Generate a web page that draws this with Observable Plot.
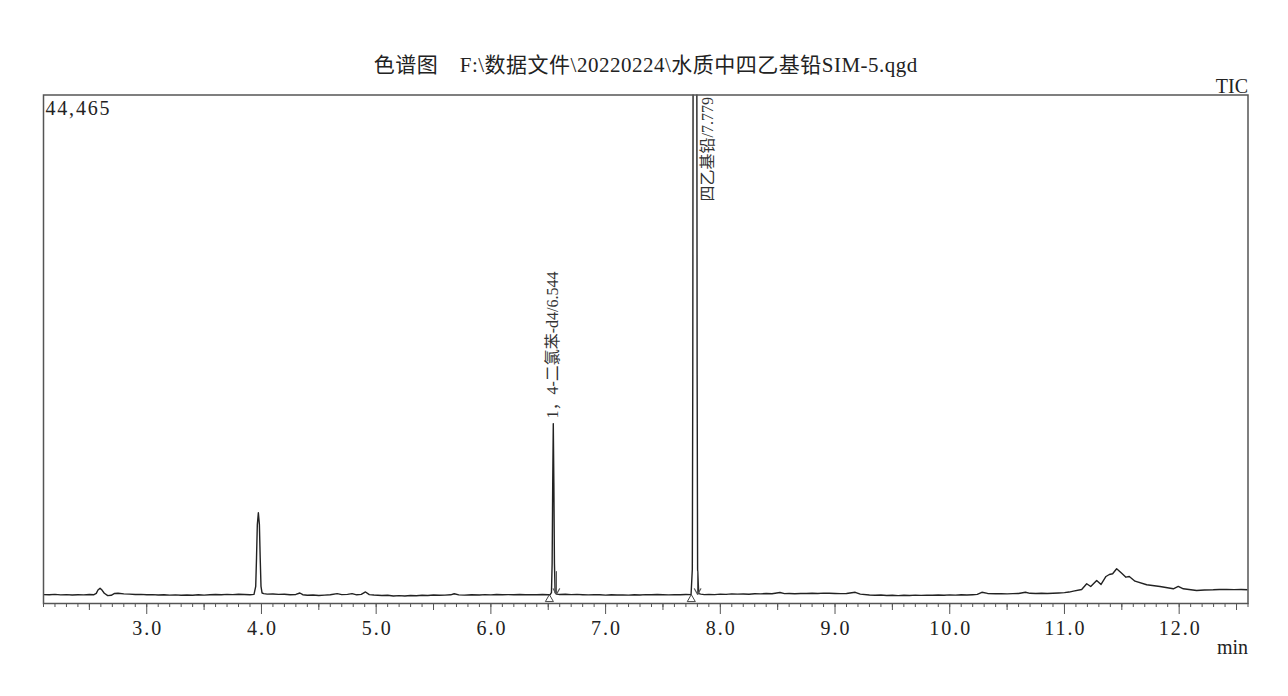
<!DOCTYPE html>
<html><head><meta charset="utf-8">
<script src="https://cdn.jsdelivr.net/npm/d3@7"></script>
<script src="https://cdn.jsdelivr.net/npm/@observablehq/plot@0.6"></script>
<style>body{margin:0;background:#fff}</style>
</head><body><div id="chart"></div>
<script>
// Retention time (min) and TIC intensity
const times = [
2.10,2.15,2.20,2.25,2.30,2.35,2.40,2.45,2.50,2.54,2.56,2.575,2.593,2.61,2.63,2.66,2.69,2.72,2.75,2.80,
2.85,2.90,2.95,3.00,3.05,3.10,3.15,3.20,3.25,3.30,3.35,3.40,3.45,3.50,3.55,3.60,3.65,3.70,3.75,3.80,
3.85,3.90,3.935,3.950,3.957,3.964,3.973,3.982,3.989,3.996,4.005,4.02,4.05,4.10,4.15,4.20,4.25,4.30,4.335,4.36,
4.40,4.45,4.50,4.55,4.60,4.66,4.70,4.75,4.79,4.83,4.87,4.907,4.94,4.98,5.05,5.10,5.15,5.20,5.25,5.30,
5.35,5.40,5.45,5.50,5.55,5.60,5.65,5.68,5.72,5.77,5.83,5.90,5.95,6.00,6.05,6.10,6.15,6.20,6.25,6.30,
6.35,6.40,6.45,6.50,6.518,6.528,6.534,6.539,6.544,6.549,6.554,6.560,6.575,6.60,6.65,6.70,6.75,6.80,6.85,6.90,
6.95,7.00,7.05,7.10,7.15,7.20,7.25,7.30,7.35,7.40,7.45,7.50,7.55,7.60,7.65,7.70,7.745,7.756,7.760,7.764,
7.772,7.779,7.786,7.794,7.798,7.802,7.812,7.83,7.86,7.90,7.95,8.00,8.05,8.10,8.15,8.20,8.25,8.30,8.35,8.40,
8.45,8.52,8.56,8.60,8.65,8.70,8.75,8.80,8.85,8.90,8.95,9.00,9.05,9.10,9.176,9.22,9.30,9.35,9.40,9.45,
9.50,9.55,9.60,9.65,9.70,9.75,9.80,9.85,9.90,9.95,10.00,10.05,10.10,10.15,10.20,10.24,10.28,10.33,10.40,10.45,
10.50,10.55,10.60,10.66,10.70,10.75,10.80,10.85,10.90,10.95,11.00,11.04,11.078,11.15,11.194,11.229,11.281,11.319,11.362,11.391,
11.42,11.455,11.499,11.536,11.565,11.615,11.717,11.833,11.949,11.992,12.036,12.152,12.22,12.297,12.35,12.414,12.48,12.54,12.60
];
const intensities = [
780,760,800,750,780,740,770,750,790,770,880,1180,1340,1170,900,690,720,880,900,840,
820,790,800,760,780,740,760,730,750,720,740,720,760,730,770,790,760,800,780,810,
790,770,800,1500,4000,6900,7939,6900,4000,1500,920,860,820,830,800,810,760,790,920,770,
720,740,700,730,760,860,780,800,860,760,800,1010,780,740,700,720,650,690,660,700,
680,720,700,740,720,730,760,850,750,730,760,740,780,750,790,760,780,770,790,760,
780,770,790,760,790,950,3500,10500,15729,10500,3500,950,820,790,810,780,800,770,750,780,
760,730,760,740,750,730,760,740,780,760,790,770,750,780,760,790,780,3000,20000,60000,
140000,160000,140000,60000,20000,3000,860,820,780,800,780,820,800,840,820,830,810,850,840,870,
850,960,860,880,850,880,870,900,880,910,890,880,860,870,980,820,740,720,740,700,
720,690,720,700,730,710,730,720,740,720,750,730,760,740,770,800,980,880,850,860,
840,860,880,980,890,870,890,880,900,920,950,1000,1077,1225,1724,1488,2013,1663,2363,2538,
2600,3037,2652,2302,2363,1952,1637,1488,1287,1488,1287,1138,1180,1199,1230,1225,1210,1220,1199
];
const yMax = 44465;
const majorTicks = [3,4,5,6,7,8,9,10,11,12];
const halfTicks = [2.5,3.5,4.5,5.5,6.5,7.5,8.5,9.5,10.5,11.5,12.5];
const minorTicks = d3.range(21, 127).map(d => d / 10);
const peakNames = ["1，4-二氯苯-d4", "四乙基铅"];
const peakTimes = [6.544, 7.779];
const peakTops = [15729, 44465];
const peakStarts = [6.510, 7.747];
const peakEnds = [6.571, 7.802];
const arrowFrom = 2800, arrowTo = 800, startMark = 370;
const titleText = "色谱图\u3000F:\\数据文件\\20220224\\水质中四乙基铅SIM-5.qgd";
const traceName = "TIC", unitName = "min";

const idx = d3.range(times.length);
const font = "'Liberation Serif','Noto Sans CJK SC',serif";
const ink = "#222", frameInk = "#555";

const chart = Plot.plot({
  width: 1288, height: 696,
  marginLeft: 43, marginRight: 40.5, marginTop: 94.5, marginBottom: 93,
  style: {fontFamily: font, fontSize: "20px", color: ink, background: "#fff"},
  x: {domain: [2.1, 12.6], label: null},
  y: {domain: [0, yMax], axis: null, label: null},
  marks: [
    Plot.axisX(minorTicks, {tickSize: 4, tickFormat: () => "", stroke: frameInk}),
    Plot.axisX(halfTicks, {tickSize: 7, tickFormat: () => "", stroke: frameInk}),
    Plot.axisX(majorTicks, {tickSize: 11, tickPadding: 6, tickFormat: d => d.toFixed(1), stroke: frameInk, fontSize: 20, fill: ink}),
    Plot.line(idx, {x: i => times[i], y: i => intensities[i], stroke: ink, strokeWidth: 1.4, clip: true}),
    Plot.frame({stroke: frameInk, strokeWidth: 1.5}),
    Plot.dot([0, 1], {x: i => peakStarts[i], y: () => startMark, symbol: "triangle", r: 3, stroke: "#444", strokeWidth: 1, fill: "none"}),
    Plot.arrow([0, 1], {x1: i => peakEnds[i], x2: i => peakEnds[i], y1: () => arrowFrom, y2: () => arrowTo, stroke: "#555", strokeWidth: 1.2, headLength: 8}),
    Plot.text([0], {x: i => peakTimes[i], y: i => peakTops[i], text: i => `${peakNames[i]}/${peakTimes[i].toFixed(3)}`,
      rotate: -90, textAnchor: "start", lineAnchor: "middle", dy: -5, fontSize: 16, fill: "#333"}),
    Plot.text([1], {x: i => peakTimes[i], y: i => peakTops[i], text: i => `${peakNames[i]}/${peakTimes[i].toFixed(3)}`,
      rotate: -90, textAnchor: "end", lineAnchor: "middle", dx: 13, dy: 2, fontSize: 16, fill: "#333"}),
    Plot.text([titleText], {frameAnchor: "top", lineAnchor: "bottom", dy: -23.5, fontSize: 21, fill: ink}),
    Plot.text([traceName], {frameAnchor: "top-right", textAnchor: "end", lineAnchor: "bottom", dy: -2.5, fontSize: 20, fill: ink}),
    Plot.text([unitName], {frameAnchor: "bottom-right", textAnchor: "end", lineAnchor: "bottom", dy: 50, fontSize: 20, fill: ink}),
    Plot.text([d3.format(",")(yMax)], {frameAnchor: "top-left", textAnchor: "start", lineAnchor: "bottom", dx: 2, dy: 20, fontSize: 20, fill: ink})
  ]
});
const svg = d3.select(chart);
svg.selectAll("g[aria-label='x-axis tick label'] text").style("letter-spacing", "2px").attr("dx", "1");
svg.selectAll("text").filter(function() { return this.textContent === titleText; }).style("letter-spacing", "0.5px");
svg.selectAll("text").filter(function() { return this.textContent === d3.format(",")(yMax); }).style("letter-spacing", "1.8px");
document.getElementById("chart").appendChild(chart);
</script>
</body></html>
